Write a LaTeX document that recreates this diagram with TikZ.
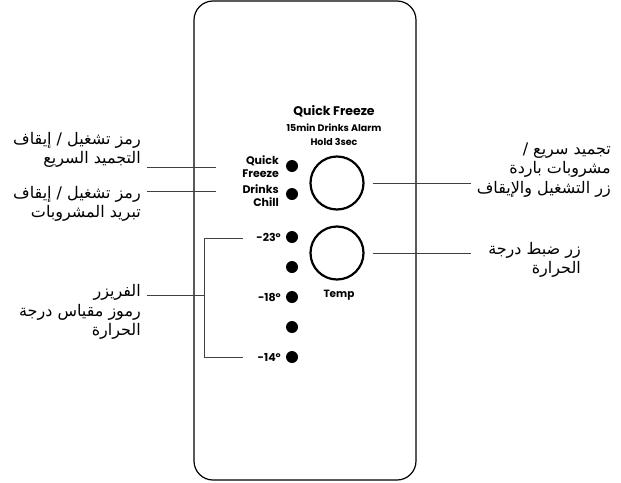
\documentclass[tikz,border=0pt]{standalone}
\usepackage{fontspec}
\newfontfamily\arabicfont[Script=Arabic]{DejaVu Sans}
\newfontfamily\keyfont{Poppins}
\TeXXeTstate=1
\newcommand\arw[1]{\hbox{\beginR#1\endR}}
\tikzset{panel/.style={draw,line width=1.2pt,rounded corners=19pt},
         dot/.style={circle,fill,inner sep=0pt,minimum size=12pt},
         btn/.style={circle,draw,line width=2.2pt,minimum size=53pt,inner sep=0pt},
         key label/.style={font=\keyfont\bfseries\fontsize{11}{13}\selectfont,inner sep=0pt,align=right},
         title label/.style={font=\keyfont\bfseries\fontsize{9.5}{11}\selectfont,inner sep=0pt},
         ar label/.style={font=\arabicfont\fontsize{16}{19.5}\selectfont,align=right,inner sep=0pt},
         conn/.style={draw=black!75,line width=0.9pt}
            }

\begin{document}
\begin{tikzpicture}[x=1pt,y=-1pt]
    \useasboundingbox (0,0) rectangle (621,482);
    \draw[panel] (194,1) rectangle (416,480);

    % indicator dots
    \node[dot] (d1) at (292,166) {};
    \node[dot] (d2) at (292,194) {};
    \node[dot] (d3) at (292,237) {};
    \node[dot] (d4) at (292,267) {};
    \node[dot] (d5) at (292,297) {};
    \node[dot] (d6) at (292,327) {};
    \node[dot] (d7) at (292,357) {};

    \node[key label,anchor=east] (qf) at (279,167) {Quick\\Freeze};
    \node[key label,anchor=east] (dc) at (279,196) {Drinks\\Chill};
    \node[key label,anchor=east] (t23) at (281,237) {-23°};
    \node[key label,anchor=east] (t18) at (281,297) {-18°};
    \node[key label,anchor=east] (t14) at (281,357) {-14°};

    % buttons
    \node[btn] (b1) at (337,183) {};
    \node[btn] (b2) at (337,253) {};
    \node[key label,font=\keyfont\bfseries\fontsize{12.5}{14}\selectfont] (title) at (334,111) {Quick Freeze};
    \node[title label] (sub) at (334,128) {15min Drinks Alarm};
    \node[title label] (hold) at (334,142) {Hold 3sec};
    \node[key label,font=\keyfont\bfseries\fontsize{10.5}{12}\selectfont] (temp) at (339,295) {Temp};

    % arabic labels (words as the sheet prints them)
    \node[ar label,anchor=east] (lqf) at (141,150) {\arw{إيقاف} / \arw{تشغيل} \arw{رمز}\\ \arw{السريع} \arw{التجميد}};
    \node[ar label,anchor=east] (ldc) at (141,204) {\arw{إيقاف} / \arw{تشغيل} \arw{رمز}\\ \arw{المشروبات} \arw{تبريد}};
    \node[ar label,anchor=east] (lfz) at (141,312) {\arw{الفريزر}\\ \arw{درجة} \arw{مقياس} \arw{رموز}\\ \arw{الحرارة}};
    \node[ar label,anchor=east] (rqf) at (611,170) {/ \arw{سريع} \arw{تجميد}\\ \arw{باردة} \arw{مشروبات}\\ \arw{والإيقاف} \arw{التشغيل} \arw{زر}};
    \node[ar label,anchor=east] (rtp) at (581,260) {\arw{درجة} \arw{ضبط} \arw{زر}\\ \arw{الحرارة}};

    % connector ends
    \coordinate (c1) at (147,167);
    \coordinate (c1e) at (216,167);
    \coordinate (c2) at (147,191);
    \coordinate (c2e) at (216,191);
    \coordinate (c3) at (147,295);
    \coordinate (bx) at (204,295);
    \coordinate (bt) at (243,238);
    \coordinate (bb) at (243,357);
    \coordinate (r1) at (471,183);
    \coordinate (r2) at (471,253);

    \path[conn]
    (c1) edge (c1e)
    (c2) edge (c2e)
    (c3) edge (bx)
    ([xshift=8pt]b1.east) edge (r1)
    ([xshift=8pt]b2.east) edge (r2);
    \draw[conn] (bt) -- (bt -| bx) -- (bb -| bx) -- (bb);
\end{tikzpicture}
\end{document}
